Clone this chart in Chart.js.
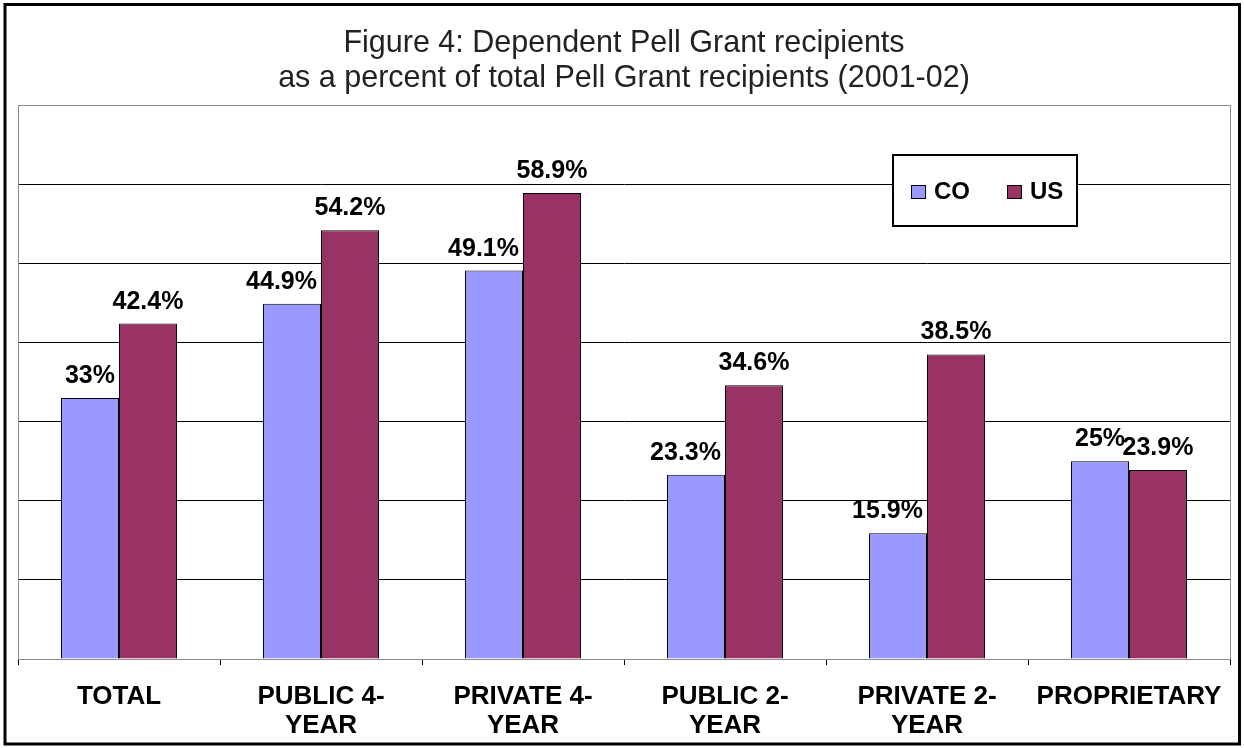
<!DOCTYPE html>
<html>
<head>
<meta charset="utf-8">
<script src="https://cdn.jsdelivr.net/npm/chart.js@4/dist/chart.umd.min.js"></script>
<style>
  html, body { margin: 0; padding: 0; background: #fff; }
  #wrap { width: 1244px; height: 748px; }
</style>
</head>
<body>
<div id="wrap"><canvas id="c" width="1244" height="748"></canvas></div>
<script>
const categories = [["TOTAL"], ["PUBLIC 4-", "YEAR"], ["PRIVATE 4-", "YEAR"], ["PUBLIC 2-", "YEAR"], ["PRIVATE 2-", "YEAR"], ["PROPRIETARY"]];
const coValues = [33, 44.9, 49.1, 23.3, 15.9, 25];
const usValues = [42.4, 54.2, 58.9, 34.6, 38.5, 23.9];
const seriesNames = ["CO", "US"];
const titleLines = ["Figure 4: Dependent Pell Grant recipients", "as a percent of total Pell Grant recipients (2001-02)"];
const yMin = 0, yMax = 70, yStep = 10;

const FONT = "'Liberation Sans', Arial, Helvetica, sans-serif";

const frame = {
  id: 'frame',
  beforeDraw(chart) {
    const ctx = chart.ctx;
    ctx.save();
    ctx.fillStyle = '#fff';
    ctx.fillRect(0, 0, chart.width, chart.height);
    ctx.restore();
  },
  beforeDatasetsDraw(chart) {
    const ctx = chart.ctx, a = chart.chartArea;
    ctx.save();
    ctx.strokeStyle = '#8c8c8c';
    ctx.lineWidth = 1;
    ctx.strokeRect(Math.round(a.left) + 0.5, Math.round(a.top) + 0.5, Math.round(a.right - a.left), Math.round(a.bottom - a.top));
    ctx.restore();
  },
  afterDraw(chart) {
    const ctx = chart.ctx;
    ctx.save();
    ctx.strokeStyle = '#000';
    ctx.lineWidth = 3;
    ctx.strokeRect(5, 4.5, chart.width - 9.5, chart.height - 8.5);
    ctx.restore();
  }
};

const valueLabels = {
  id: 'valueLabels',
  afterDatasetsDraw(chart) {
    const ctx = chart.ctx;
    ctx.save();
    ctx.font = 'bold 25px ' + FONT;
    ctx.fillStyle = '#000';
    ctx.textAlign = 'center';
    ctx.textBaseline = 'alphabetic';
    const metas = chart.data.datasets.map((d, di) => chart.getDatasetMeta(di));
    chart.data.datasets.forEach((ds, di) => {
      const meta = metas[di];
      meta.data.forEach((bar, i) => {
        const txt = String(ds.data[i]) + '%';
        const w = ctx.measureText(txt).width;
        let x = bar.x;
        const next = metas[di + 1] ? metas[di + 1].data[i] : null;
        if (next && next.y < bar.y - 20 && w / 2 > bar.width / 2 - 4) {
          // keep the label clear of the taller neighbouring bar
          x = bar.x + bar.width / 2 - 4 - w / 2;
        }
        ctx.fillText(txt, x, bar.y - 15);
      });
    });
    ctx.restore();
  }
};

const boxLegend = {
  id: 'boxLegend',
  afterDraw(chart) {
    const ctx = chart.ctx;
    const bx = 893, by = 155, bw = 184, bh = 71;
    ctx.save();
    ctx.fillStyle = '#fff';
    ctx.fillRect(bx, by, bw, bh);
    ctx.strokeStyle = '#000';
    ctx.lineWidth = 2;
    ctx.strokeRect(bx, by, bw, bh);
    ctx.font = 'bold 24px ' + FONT;
    ctx.textBaseline = 'middle';
    ctx.textAlign = 'left';
    const items = [{x: 911}, {x: 1007}];
    chart.data.datasets.forEach((ds, i) => {
      const x = items[i].x, y = 185;
      ctx.fillStyle = ds.backgroundColor;
      ctx.fillRect(x, y, 14, 13);
      ctx.strokeStyle = '#000';
      ctx.lineWidth = 1;
      ctx.strokeRect(x + 0.5, y + 0.5, 14, 13);
      ctx.fillStyle = '#000';
      ctx.fillText(ds.label, x + 23, y + 7);
    });
    ctx.restore();
  }
};

new Chart(document.getElementById('c'), {
  type: 'bar',
  data: {
    labels: categories,
    datasets: [
      { label: seriesNames[0], data: coValues, backgroundColor: '#9999ff', borderColor: '#000', borderWidth: 1 },
      { label: seriesNames[1], data: usValues, backgroundColor: '#993366', borderColor: '#000', borderWidth: 1 }
    ]
  },
  options: {
    responsive: false,
    animation: false,
    layout: { padding: { left: 18, right: 14, top: 0, bottom: 0 } },
    plugins: {
      legend: { display: false },
      tooltip: { enabled: false },
      title: {
        display: true,
        text: titleLines,
        color: '#222',
        font: { family: FONT, size: 30.5, weight: 'normal', lineHeight: 1.15 },
        padding: { top: 26, bottom: 9 }
      }
    },
    scales: {
      x: {
        grid: { display: true, offset: true, drawOnChartArea: false, color: '#000', tickLength: 6 },
        border: { display: true, color: '#000', width: 1 },
        ticks: { color: '#000', font: { family: FONT, size: 26, weight: 'bold', lineHeight: 1.12 }, padding: 17, maxRotation: 0, autoSkip: false },
        afterFit(scale) { scale.height = 89; }
      },
      y: {
        min: yMin, max: yMax,
        ticks: { display: false, stepSize: yStep },
        grid: {
          drawTicks: false,
          color: (c) => (c.tick && c.tick.value === yMax) ? '#8c8c8c' : '#000',
          lineWidth: 1
        },
        border: { display: true, color: '#8c8c8c' },
        afterFit(scale) { scale.width = 0; }
      }
    },
    datasets: { bar: { categoryPercentage: 0.574, barPercentage: 1 } }
  },
  plugins: [frame, valueLabels, boxLegend]
});
</script>
</body>
</html>
